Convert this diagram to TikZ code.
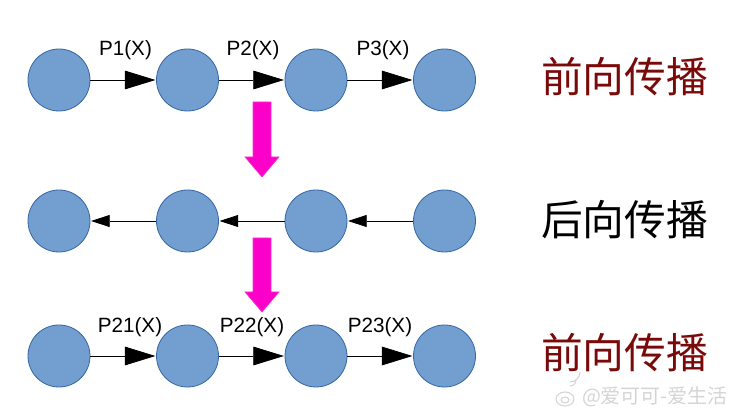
\documentclass[tikz,border=0pt]{standalone}
\usepackage{fontspec}
\setmainfont{Liberation Sans}
\newfontfamily\cjk{Noto Sans CJK SC}
\usetikzlibrary{arrows.meta}
\definecolor{nodefill}{HTML}{729FCF}
\definecolor{nodeedge}{HTML}{3465A4}
\definecolor{fwdred}{HTML}{7A0A0A}
\definecolor{magentaarrow}{RGB}{250,0,200}
\tikzset{
  unit/.style={circle, minimum size=46.5pt, inner sep=0pt, fill=nodefill, draw=nodeedge, line width=0.6pt},
  fwd/.style={draw=black, line width=0.6pt, -{Triangle[length=23pt, width=14pt]}, shorten >=0.5pt},
  bwd/.style={draw=black, line width=0.6pt, -{Triangle[length=14pt, width=9pt]}, shorten >=0.5pt},
  plabel/.style={font=\fontsize{15.5pt}{17pt}\selectfont, inner sep=0pt},
  bigtext/.style={font=\cjk\fontsize{31.3pt}{33pt}\selectfont, inner sep=0pt},
  bigarrow/.style={fill=magentaarrow, draw=magentaarrow!80!white, line width=0.5pt},
  wmark/.style={text=black!17, draw=black!17}
}
\begin{document}
\begin{tikzpicture}[x=0.75pt, y=-0.75pt]
\useasboundingbox (0,0) rectangle (733,413);
% row 1
\node[unit] (a1) at (59,80) {};
\node[unit] (a2) at (187.5,80) {};
\node[unit] (a3) at (316,80) {};
\node[unit] (a4) at (444.5,80) {};
\draw[fwd] (a1) -- (a2);
\draw[fwd] (a2) -- (a3);
\draw[fwd] (a3) -- (a4);
\node[plabel] (l1) at (125.5,50) {P1(X)};
\node[plabel] (l2) at (253,50) {P2(X)};
\node[plabel] (l3) at (383,50) {P3(X)};
% row 2
\node[unit] (b1) at (59,221) {};
\node[unit] (b2) at (187.5,221) {};
\node[unit] (b3) at (316,221) {};
\node[unit] (b4) at (444.5,221) {};
\draw[bwd] (b2) -- (b1);
\draw[bwd] (b3) -- (b2);
\draw[bwd] (b4) -- (b3);
% row 3
\node[unit] (c1) at (59,356) {};
\node[unit] (c2) at (187.5,356) {};
\node[unit] (c3) at (316,356) {};
\node[unit] (c4) at (444.5,356) {};
\draw[fwd] (c1) -- (c2);
\draw[fwd] (c2) -- (c3);
\draw[fwd] (c3) -- (c4);
\node[plabel] (m1) at (130,327) {P21(X)};
\node[plabel] (m2) at (252,327) {P22(X)};
\node[plabel] (m3) at (380,327) {P23(X)};
% magenta arrows
\draw[bigarrow] (253,102) -- (271,102) -- (271,157) -- (279,157) -- (262,177) -- (245,157) -- (253,157) -- cycle;
\draw[bigarrow] (253,238) -- (271,238) -- (271,292) -- (279,292) -- (262,312) -- (245,292) -- (253,292) -- cycle;
% right side labels
\node[bigtext, text=fwdred] (t1) at (624.5,77) {前向传播};
\node[bigtext, text=black] (t2) at (624.5,220) {后向传播};
\node[bigtext, text=fwdred] (t3) at (624.5,353) {前向传播};
% watermark
\draw[wmark, line width=0.8pt] (565,399) ellipse (9 and 7);
\draw[wmark, line width=0.8pt] (565,400) ellipse (4 and 3);
\draw[wmark, line width=0.8pt] (570,386) arc (90:0:6);
\draw[wmark, line width=0.8pt] (570,382) arc (90:0:10);
\node[font=\cjk\fontsize{15pt}{16pt}\selectfont, wmark, draw=none, inner sep=0pt] (wm) at (655,397) {@爱可可-爱生活};
\end{tikzpicture}
\end{document}
